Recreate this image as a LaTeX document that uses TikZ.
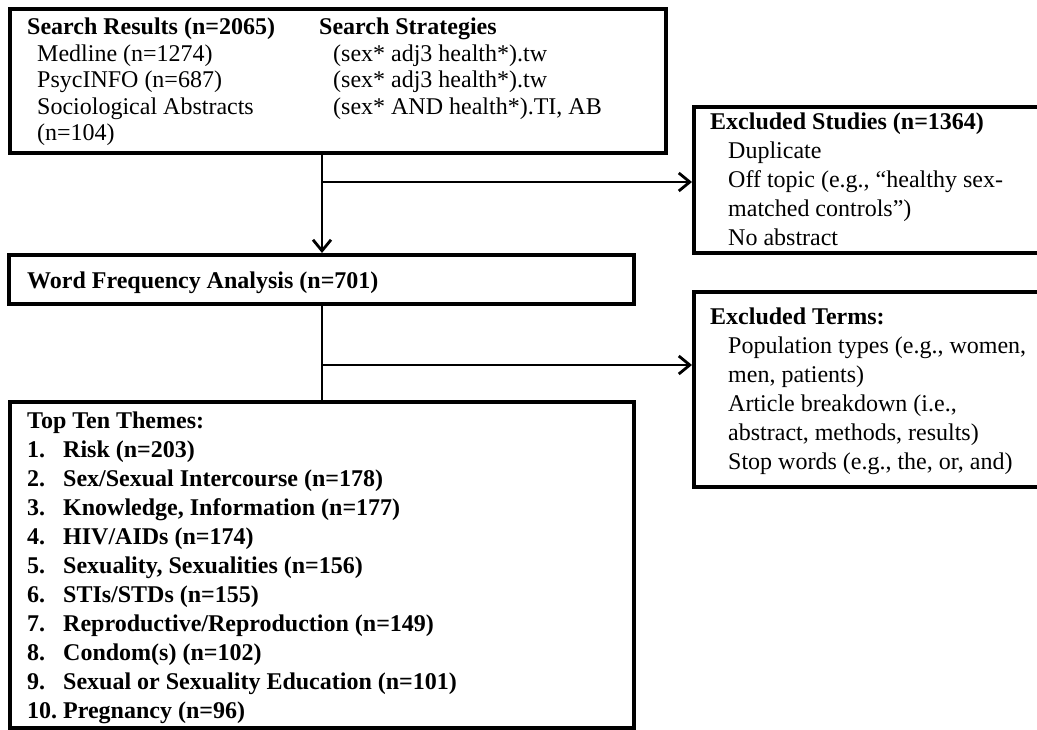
\documentclass[tikz,border=0pt]{standalone}
\usepackage{fontspec}
\setmainfont{Liberation Serif}
\usetikzlibrary{arrows.meta}
\newcommand{\ind}{\hspace*{10pt}}
\newcommand{\indr}{\hspace*{14pt}}
\newcommand{\indx}{\hspace*{18pt}}
\newcommand{\nm}[1]{\makebox[36pt][l]{#1}}

\begin{document}
\begin{tikzpicture}[x=1pt,y=-1pt,font=\fontsize{24pt}{29pt}\selectfont,
        bx/.style={draw,line width=4pt,inner sep=0pt,outer sep=0pt,anchor=north west},
        txt/.style={inner sep=0pt,anchor=north west,align=left},
        ln/.style={line width=2.8pt},
        arr/.style={-{Straight Barb[length=11pt,width=18pt]},line width=2.8pt,shorten >=2pt}]
        \useasboundingbox (0,0) rectangle (1037,730);
        \node[bx,minimum width=656,minimum height=144] (srch) at (10,9) {}; \node[bx,minimum width=370,minimum height=146] (exst) at (694,107) {};
        \node[bx,minimum width=625,minimum height=49] (wfa) at (9,255) {}; \node[bx,minimum width=370,minimum height=195] (extm) at (694,292) {};
        \node[bx,minimum width=624,minimum height=326] (topten) at (10,402) {};
        \node[txt,font=\fontsize{24pt}{26.5pt}\selectfont] (srchres) at (27,18) {\textbf{Search Results (n=2065)}\\\ind Medline (n=1274)\\\ind PsycINFO (n=687)\\\ind Sociological Abstracts\\\ind (n=104)};
        \node[txt,font=\fontsize{24pt}{26.5pt}\selectfont] (srchstr) at (319,18) {\textbf{Search Strategies}\\\indr (sex* adj3 health*).tw\\\indr (sex* adj3 health*).tw\\\indr (sex* AND health*).TI, AB};
        \node[txt] (exsttxt) at (710,113) {\textbf{Excluded Studies (n=1364)}\\\indx Duplicate\\\indx Off topic (e.g., “healthy sex-\\\indx matched controls”)\\\indx No abstract};
        \node[anchor=base west,inner sep=0pt,font=\fontsize{24pt}{29pt}\selectfont\bfseries] (wfatxt) at (27,289) {Word Frequency Analysis (n=701)};
        \node[txt] (extmtxt) at (710,308) {\textbf{Excluded Terms:}\\\indx Population types (e.g., women,\\\indx men, patients)\\\indx Article breakdown (i.e.,\\\indx abstract, methods, results)\\\indx Stop words (e.g., the, or, and)};
        \node[txt,font=\fontsize{24pt}{29pt}\selectfont\bfseries] (toptentxt) at (27,412) {Top Ten Themes:\\\nm{1.}Risk (n=203)\\\nm{2.}Sex/Sexual Intercourse (n=178)\\\nm{3.}Knowledge, Information (n=177)\\\nm{4.}HIV/AIDs (n=174)\\\nm{5.}Sexuality, Sexualities (n=156)\\\nm{6.}STIs/STDs (n=155)\\\nm{7.}Reproductive/Reproduction (n=149)\\\nm{8.}Condom(s) (n=102)\\\nm{9.}Sexual or Sexuality Education (n=101)\\\nm{10.}Pregnancy (n=96)};
        \coordinate (j1) at (322,182); \coordinate (j2) at (322,365);
        \draw[arr] (srch.south -| j1)--(wfa.north -| j1); \draw[arr] (j1)--(j1 -| exst.west);
        \draw[ln] (wfa.south -| j2)--(topten.north -| j2); \draw[arr] (j2)--(j2 -| extm.west);
      \end{tikzpicture}
\end{document}
